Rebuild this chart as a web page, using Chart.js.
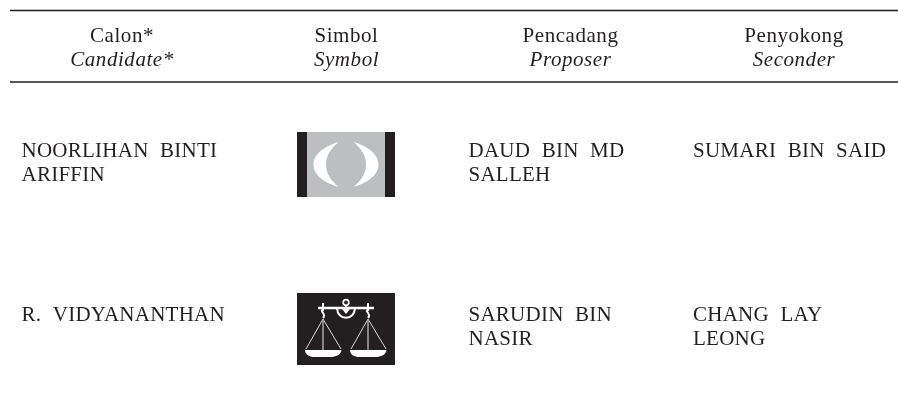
<!DOCTYPE html>
<html><head><meta charset="utf-8">
<style>html,body{margin:0;padding:0;background:#fff}canvas{display:block}</style>
<script src="https://cdn.jsdelivr.net/npm/chart.js@4"></script></head>
<body><canvas id="c" width="898" height="403"></canvas>
<script>
const headersMalay = ["Calon*","Simbol","Pencadang","Penyokong"];
const headersEnglish = ["Candidate*","Symbol","Proposer","Seconder"];
const candidates = [["NOORLIHAN BINTI","ARIFFIN"],["R. VIDYANANTHAN"]];
const symbols = ["crescents","scales"];
const proposers = [["DAUD BIN MD","SALLEH"],["SARUDIN BIN","NASIR"]];
const seconders = [["SUMARI BIN SAID"],["CHANG LAY","LEONG"]];

const INK="#231f20", GREY="#bcbec0";
const FONT='"Liberation Serif"';
const SIZE=21;
const headCx=[122,346.5,570.5,794];
const bodyCols=[[candidates,21.5],[proposers,468.5],[seconders,693]];
const rowBase=[157,321], LINE=24;

const table={id:'table',afterDatasetsDraw(ch){
  const c=ch.ctx,X=v=>ch.scales.x.getPixelForValue(v),Y=v=>ch.scales.y.getPixelForValue(v);
  c.save();c.fillStyle=INK;c.textBaseline='alphabetic';
  c.letterSpacing="0.55px";c.textAlign='center';
  headersMalay.forEach((t,i)=>{
    c.font=`${SIZE}px ${FONT}`;c.fillText(t,X(headCx[i]),Y(42));
    c.font=`italic ${SIZE}px ${FONT}`;c.fillText(headersEnglish[i],X(headCx[i]),Y(66));
  });
  c.letterSpacing="0.25px";c.wordSpacing="6px";
  c.textAlign='left';c.font=`${SIZE}px ${FONT}`;
  rowBase.forEach((base,r)=>{
    bodyCols.forEach(([arr,x])=>arr[r].forEach((t,k)=>c.fillText(t,X(x),Y(base+k*LINE))));
  });
  c.restore();
  symbols.forEach(s=>{ if(s==="crescents")crescents(c,X,Y); else scales(c,X,Y); });
}};
function rect(c,X,Y,x0,y0,x1,y1,col){c.fillStyle=col;c.fillRect(X(x0),Y(y0),X(x1)-X(x0),Y(y1)-Y(y0));}
function crescents(c,X,Y){
  rect(c,X,Y,297,132,395,197,INK);
  rect(c,X,Y,307,132,385,197,GREY);
  c.fillStyle="#fff";
  [[338.5,-1],[353.5,1]].forEach(([tip,d])=>{
    const P=(o)=>X(tip+d*o);
    c.beginPath();c.moveTo(P(0),Y(142));
    c.bezierCurveTo(P(12),Y(145.5),P(25),Y(153),P(25),Y(164.5));
    c.bezierCurveTo(P(25),Y(176),P(12),Y(183.5),P(0),Y(187));
    c.bezierCurveTo(P(7),Y(181),P(12.5),Y(174),P(12.5),Y(164.5));
    c.bezierCurveTo(P(12.5),Y(155),P(7),Y(148),P(0),Y(142));c.fill();
  });
}
function scales(c,X,Y){
  rect(c,X,Y,297,293,395,365,INK);
  c.strokeStyle="#fff";c.fillStyle="#fff";c.lineWidth=2.5;
  c.beginPath();c.moveTo(X(318),Y(308));c.lineTo(X(374),Y(308));c.stroke();
  c.lineWidth=1.7;
  c.beginPath();c.arc(X(346),Y(302.5),2.8,0,7);c.stroke();
  c.beginPath();c.moveTo(X(346),Y(305));c.lineTo(X(346),Y(308));c.stroke();
  c.lineWidth=2;c.beginPath();c.arc(X(346),Y(309),8.8,0,Math.PI);c.stroke();
  c.beginPath();c.moveTo(X(342),Y(309));c.lineTo(X(350),Y(309));c.lineTo(X(346),Y(314));c.fill();
  [323,368].forEach(hx=>{
    c.lineWidth=2;c.beginPath();c.moveTo(X(hx),Y(303));c.lineTo(X(hx),Y(310));
    c.bezierCurveTo(X(hx-4),Y(311),X(hx+4),Y(314),X(hx),Y(318));c.stroke();
    c.lineWidth=1;c.strokeStyle="#d8d8d8";c.beginPath();c.moveTo(X(hx),Y(319));c.lineTo(X(hx-17),Y(349));c.moveTo(X(hx),Y(319));c.lineTo(X(hx+18),Y(349));c.stroke();
    c.strokeStyle="#a8a8a8";c.lineWidth=1.5;c.beginPath();c.moveTo(X(hx),Y(319));c.lineTo(X(hx),Y(350));c.stroke();c.strokeStyle="#fff";
    c.beginPath();c.moveTo(X(hx-18),Y(350));c.lineTo(X(hx+18.5),Y(350));c.bezierCurveTo(X(hx+18),Y(355),X(hx+12),Y(357),X(hx+8),Y(357));
    c.lineTo(X(hx-9),Y(357));c.bezierCurveTo(X(hx-13),Y(357),X(hx-18),Y(355),X(hx-18),Y(350));c.fill();
  });
}
new Chart(document.getElementById('c'),{type:'scatter',
 data:{datasets:[
  {data:[{x:10,y:10.5},{x:898,y:10.5}],showLine:true,pointRadius:0,borderColor:INK,borderWidth:1.3},
  {data:[{x:10,y:82},{x:898,y:82}],showLine:true,pointRadius:0,borderColor:INK,borderWidth:1.3}
 ]},
 plugins:[table],
 options:{responsive:false,animation:false,layout:{padding:0},
  plugins:{legend:{display:false},tooltip:{enabled:false},title:{display:false}},
  scales:{x:{type:'linear',min:0,max:898,display:false},y:{type:'linear',min:0,max:403,reverse:true,display:false}}}
});
</script></body></html>
